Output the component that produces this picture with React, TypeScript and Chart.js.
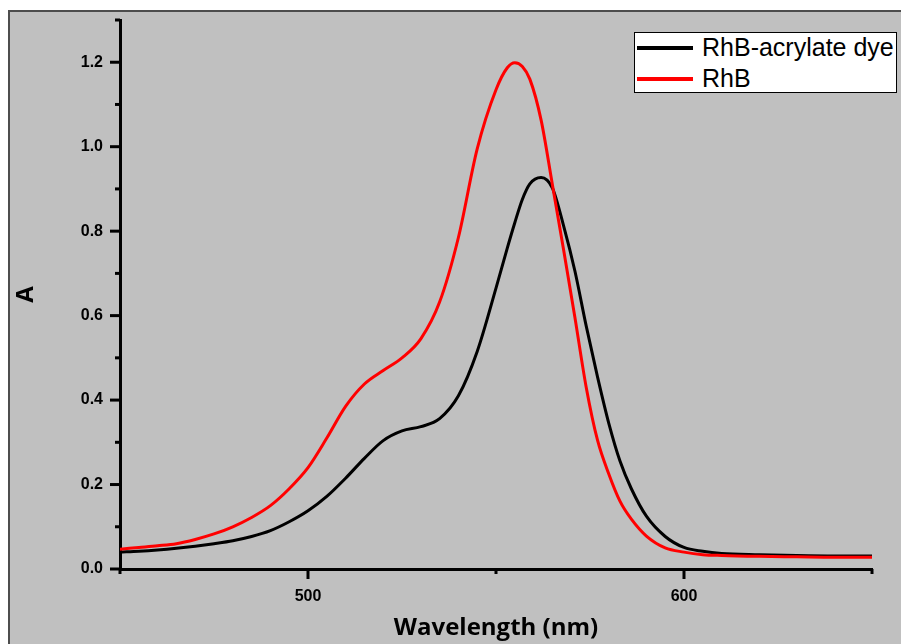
import React, { useEffect, useRef } from "react";
import { Chart, registerables } from "chart.js";

Chart.register(...registerables);

// Wavelength (nm)
const wavelengths = [
  450, 455, 460, 465, 470, 475, 480, 485, 490, 495, 500, 505, 510, 515, 520, 525, 530, 535, 540, 545,
  550, 553, 555, 557, 559, 562, 565, 568, 571, 574, 577, 580, 583, 586, 590, 595, 600, 605, 610, 620,
  630, 640, 650,
];
// Absorbance, RhB-acrylate dye
const dyeAbs = [
  0.040, 0.042, 0.045, 0.049, 0.054, 0.060, 0.067, 0.077, 0.091, 0.112, 0.138, 0.172, 0.215, 0.262, 0.304, 0.327, 0.337, 0.356, 0.41, 0.515,
  0.665, 0.76, 0.82, 0.875, 0.912, 0.927, 0.902, 0.812, 0.705, 0.575, 0.455, 0.345, 0.255, 0.19, 0.125, 0.077, 0.051, 0.042, 0.037, 0.034,
  0.032, 0.031, 0.031,
];
// Absorbance, RhB
const rhbAbs = [
  0.047, 0.051, 0.055, 0.060, 0.070, 0.083, 0.100, 0.122, 0.150, 0.190, 0.240, 0.310, 0.385, 0.438, 0.470, 0.500, 0.545, 0.632, 0.785, 0.995,
  1.135, 1.187, 1.199, 1.19, 1.16, 1.063, 0.91, 0.755, 0.595, 0.43, 0.305, 0.225, 0.16, 0.118, 0.078, 0.050, 0.040, 0.034, 0.032, 0.030,
  0.029, 0.028, 0.028,
];

const seriesNames = ["RhB-acrylate dye", "RhB"];
const seriesColors = ["#000000", "#ff0000"];

const xMajorTicks = [500, 600];
const xMinorTicks = [450, 550, 650];
const yMajorTicks = [0, 0.2, 0.4, 0.6, 0.8, 1.0, 1.2];
const yMinorTicks = [0.1, 0.3, 0.5, 0.7, 0.9, 1.1, 1.3];

const xTitle = "Wavelength (nm)";
const yTitle = "A";

const tickMarksPlugin = {
  id: "tickMarks",
  afterDraw(chart: any) {
    const ctx = chart.ctx;
    const xs = chart.scales.x;
    const ys = chart.scales.y;
    const area = chart.chartArea;
    ctx.save();
    ctx.strokeStyle = "#000";
    ctx.lineWidth = 3;
    ctx.lineCap = "butt";
    const yTick = (v: number, len: number) => {
      const p = ys.getPixelForValue(v);
      ctx.beginPath();
      ctx.moveTo(area.left, p);
      ctx.lineTo(area.left - len, p);
      ctx.stroke();
    };
    const xTick = (v: number, len: number) => {
      const p = xs.getPixelForValue(v);
      ctx.beginPath();
      ctx.moveTo(p, area.bottom);
      ctx.lineTo(p, area.bottom + len);
      ctx.stroke();
    };
    yMajorTicks.forEach((v) => yTick(v, 10));
    yMinorTicks.forEach((v) => yTick(v, 5));
    xMajorTicks.forEach((v) => xTick(v, 10));
    xMinorTicks.forEach((v) => xTick(v, 5));
    ctx.restore();
  },
};

export default function App() {
  const canvasRef = useRef<HTMLCanvasElement | null>(null);

  useEffect(() => {
    document.body.style.overflow = "hidden";
    const canvas = canvasRef.current;
    if (!canvas) return;
    const tickFont = { family: '"Liberation Sans", Arial, sans-serif', size: 16, weight: "bold" as const };
    const titleFont = { family: '"Open Sans", sans-serif', size: 24, weight: "bold" as const };
    const chart = new Chart(canvas, {
      type: "line",
      data: {
        datasets: [
          {
            label: seriesNames[0],
            data: wavelengths.map((w, i) => ({ x: w, y: dyeAbs[i] })),
            borderColor: seriesColors[0],
            backgroundColor: seriesColors[0],
            borderWidth: 3,
            pointRadius: 0,
            cubicInterpolationMode: "monotone",
            order: 2,
          },
          {
            label: seriesNames[1],
            data: wavelengths.map((w, i) => ({ x: w, y: rhbAbs[i] })),
            borderColor: seriesColors[1],
            backgroundColor: seriesColors[1],
            borderWidth: 3,
            pointRadius: 0,
            cubicInterpolationMode: "monotone",
            order: 1,
          },
        ],
      },
      options: {
        animation: false,
        responsive: false,
        maintainAspectRatio: false,
        devicePixelRatio: 1,
        layout: { padding: { top: 8, right: 29, left: 0, bottom: 0 } },
        plugins: {
          legend: { display: false },
          tooltip: { enabled: false },
        },
        scales: {
          x: {
            type: "linear",
            min: 450,
            max: 650,
            afterBuildTicks: (s: any) => {
              s.ticks = xMajorTicks.map((v) => ({ value: v }));
            },
            afterFit: (s: any) => {
              s.height = 75;
              s.paddingLeft = 0;
              s.paddingRight = 0;
            },
            grid: { display: true, drawOnChartArea: false, drawTicks: false },
            border: { display: true, color: "#000", width: 3 },
            ticks: {
              color: "#000",
              font: tickFont,
              padding: 18,
              maxRotation: 0,
              autoSkip: false,
              callback: (v: any) => String(v),
            },
            title: {
              display: true,
              text: xTitle,
              color: "#000",
              font: titleFont,
              padding: { top: 0, bottom: 1 },
            },
          },
          y: {
            type: "linear",
            min: 0,
            max: 1.3,
            afterBuildTicks: (s: any) => {
              s.ticks = yMajorTicks.map((v) => ({ value: v }));
            },
            afterFit: (s: any) => {
              s.width = 110;
              s.paddingTop = 0;
              s.paddingBottom = 0;
            },
            grid: { display: true, drawOnChartArea: false, drawTicks: false },
            border: { display: true, color: "#000", width: 3 },
            ticks: {
              color: "#000",
              font: tickFont,
              padding: 17,
              autoSkip: false,
              callback: (v: any) => Number(v).toFixed(1),
            },
            title: {
              display: true,
              text: yTitle,
              color: "#000",
              font: { family: '"Open Sans", sans-serif', size: 24, weight: "bold" as const },
              padding: { top: 2, bottom: 0 },
            },
          },
        },
      },
      plugins: [tickMarksPlugin],
    });
    return () => chart.destroy();
  }, []);

  return (
    <div
      style={{
        position: "absolute",
        left: 8,
        top: 10,
        width: 891,
        height: 632,
        background: "#c0c0c0",
        borderLeft: "2px solid #4d4d4d",
        borderTop: "2px solid #4d4d4d",
      }}
    >
      <canvas ref={canvasRef} width={891} height={632} style={{ display: "block", width: 891, height: 632 }} />
      <div
        style={{
          position: "absolute",
          left: 624,
          top: 20,
          width: 261,
          height: 59,
          background: "#ffffff",
          border: "1px solid #000",
          fontFamily: '"Liberation Sans", Arial, sans-serif',
          fontSize: 25,
          color: "#000",
        }}
      >
        {seriesNames.map((name, i) => (
          <div
            key={name}
            style={{
              position: "absolute",
              left: 0,
              top: i === 0 ? 0 : 31,
              height: 29,
              width: 261,
              display: "flex",
              alignItems: "center",
            }}
          >
            <div style={{ marginLeft: 2, width: 56, height: 4, background: seriesColors[i] }} />
            <span style={{ marginLeft: 9, lineHeight: "29px", whiteSpace: "nowrap" }}>{name}</span>
          </div>
        ))}
      </div>
    </div>
  );
}
